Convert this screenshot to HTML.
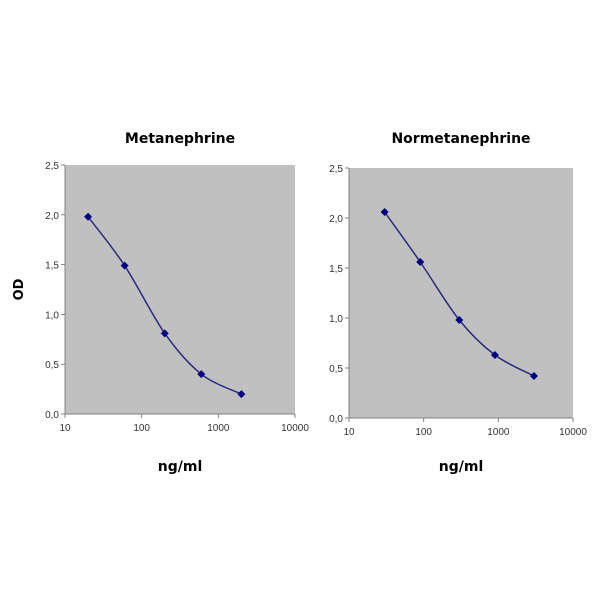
<!DOCTYPE html>
<html><head><meta charset="utf-8"><style>
body{margin:0;background:#fff;width:600px;height:600px;overflow:hidden}
svg{font-family:"Liberation Sans",sans-serif}
</style></head><body>
<svg id="svg" width="600" height="600"></svg>
<script>
const xTickLabels=["10","100","1000","10000"];
const yTickLabels=["0,0","0,5","1,0","1,5","2,0","2,5"];
const yTickValues=[0,0.5,1,1.5,2,2.5];
const xTickValues=[10,100,1000,10000];
const metaX=[20,60,200,600,2000];
const metaY=[1.98,1.49,0.81,0.40,0.20];
const normX=[30,90,300,900,3000];
const normY=[2.06,1.56,0.98,0.63,0.42];

const svg=document.getElementById('svg');
const NS='http://www.w3.org/2000/svg';
function mk(tag,attrs,parent){const e=document.createElementNS(NS,tag);for(const k in attrs)e.setAttribute(k,attrs[k]);parent.appendChild(e);return e;}

function chart(key,title,L,R,T,B,xs,ys,showOD){
  const g=mk('g',{},svg);
  
  
  const sx=v=>L+(Math.log10(v)-1)/3*(R-L);
  const sy=v=>B-v/2.5*(B-T);
  const bg=mk('rect',{x:L,y:T,width:R-L,height:B-T,fill:'#c0c0c0'},g);
  
  
  const ax=mk('path',{d:`M${L},${T}V${B}H${R}`,stroke:'#808080',fill:'none','stroke-width':1},g);
  
  
  yTickValues.forEach((v,i)=>{
    const y=sy(v);
    mk('line',{x1:L-4,x2:L,y1:y,y2:y,stroke:'#808080'},g);
    const t=mk('text',{x:L-6,y:y+4,'text-anchor':'end','font-size':10,fill:'#333'},g);
    t.textContent=yTickLabels[i];
    
    
  });
  xTickValues.forEach((v,i)=>{
    const x=sx(v);
    mk('line',{x1:x,x2:x,y1:B,y2:B+4,stroke:'#808080'},g);
    const t=mk('text',{x:x,y:B+17,'text-anchor':'middle','font-size':10,fill:'#333'},g);
    t.textContent=xTickLabels[i];
    
    
  });
  const pts=xs.map((x,i)=>[sx(x),sy(ys[i])]);
  let d=`M${pts[0][0]},${pts[0][1]}`;
  for(let i=0;i<pts.length-1;i++){
    const p0=pts[Math.max(0,i-1)],p1=pts[i],p2=pts[i+1],p3=pts[Math.min(pts.length-1,i+2)];
    const c1=[p1[0]+(p2[0]-p0[0])/6,p1[1]+(p2[1]-p0[1])/6];
    const c2=[p2[0]-(p3[0]-p1[0])/6,p2[1]-(p3[1]-p1[1])/6];
    d+=`C${c1[0]},${c1[1]} ${c2[0]},${c2[1]} ${p2[0]},${p2[1]}`;
  }
  const line=mk('path',{d:d,stroke:'#2a2a80',fill:'none','stroke-width':1.5},g);
  
  
  pts.forEach(p=>{
    const m=mk('path',{d:`M${p[0]},${p[1]-4}L${p[0]+4},${p[1]}L${p[0]},${p[1]+4}L${p[0]-4},${p[1]}Z`,fill:'#000080'},g);
    
    
  });
  const tt=mk('text',{x:(L+R)/2,y:143,'text-anchor':'middle','font-size':14,'font-weight':'bold',fill:'#000','font-family':'DejaVu Sans, sans-serif'},g);
  tt.textContent=title;
  
  
  const xt=mk('text',{x:(L+R)/2,y:471,'text-anchor':'middle','font-size':14,'font-weight':'bold',fill:'#000','font-family':'DejaVu Sans, sans-serif'},g);
  xt.textContent='ng/ml';
  
  
  if(showOD){
    const yt=mk('text',{x:0,y:0,transform:`translate(23,${(T+B)/2}) rotate(-90)`,'text-anchor':'middle','font-size':13,'font-weight':'bold',fill:'#000','font-family':'DejaVu Sans, sans-serif'},g);
    yt.textContent='OD';
    
    
  }
}
chart('metanephrine','Metanephrine',65,295,165,414,metaX,metaY,true);
chart('normetanephrine','Normetanephrine',349,573,168,418,normX,normY,false);
</script>
</body></html>
